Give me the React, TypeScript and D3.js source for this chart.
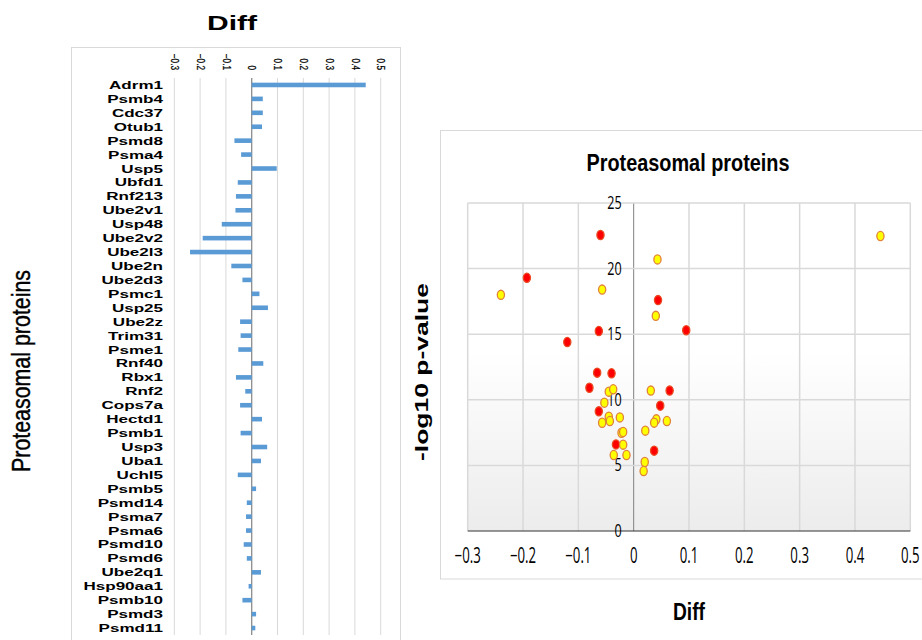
import React from "react";
import * as d3 from "d3";

const proteins = ["Adrm1","Psmb4","Cdc37","Otub1","Psmd8","Psma4","Usp5","Ubfd1","Rnf213","Ube2v1","Usp48","Ube2v2","Ube2l3","Ube2n","Ube2d3","Psmc1","Usp25","Ube2z","Trim31","Psme1","Rnf40","Rbx1","Rnf2","Cops7a","Hectd1","Psmb1","Usp3","Uba1","Uchl5","Psmb5","Psmd14","Psma7","Psma6","Psmd10","Psmd6","Ube2q1","Hsp90aa1","Psmb10","Psmd3","Psmd11"];
const diffValues = [0.442,0.043,0.043,0.04,-0.067,-0.041,0.097,-0.054,-0.061,-0.063,-0.116,-0.19,-0.239,-0.079,-0.036,0.03,0.063,-0.045,-0.043,-0.052,0.045,-0.061,-0.025,-0.045,0.04,-0.043,0.06,0.036,-0.054,0.017,-0.019,-0.022,-0.022,-0.031,-0.019,0.036,-0.012,-0.036,0.017,0.014];
const diffTicks = [-0.3,-0.2,-0.1,0,0.1,0.2,0.3,0.4,0.5];
const pTicks = [0,5,10,15,20,25];

const scatterDiff = [-0.06,0.043,-0.193,-0.24,-0.057,0.044,0.04,0.095,-0.063,-0.12,-0.066,-0.04,-0.08,-0.045,-0.037,-0.053,-0.063,-0.057,-0.045,-0.043,-0.025,-0.022,-0.019,-0.032,-0.019,-0.036,-0.013,0.031,0.065,0.048,0.041,0.037,0.06,0.021,0.037,0.02,0.018,0.446];
const scatterLogP = [22.56,20.7,19.3,18.0,18.4,17.6,16.4,15.3,15.24,14.4,12.07,12.02,10.92,10.62,10.8,9.78,9.12,8.25,8.71,8.38,8.66,7.49,7.55,6.6,6.58,5.79,5.79,10.7,10.7,9.55,8.51,8.26,8.38,7.65,6.12,5.26,4.57,22.48];
const scatterGroup = ["r","y","r","y","y","r","y","r","r","r","r","r","r","y","y","y","r","y","y","y","y","y","y","r","y","y","y","y","r","r","y","y","y","y","r","y","y","y"];

const xL = d3.scaleLinear().domain([-0.3, 0.5]).range([174.3, 380.7]);
const yL = d3.scaleBand<string>().domain(proteins).range([78, 635]);
const xR = d3.scaleLinear().domain([-0.3, 0.5]).range([467.7, 910.3]);
const yR = d3.scaleLinear().domain([0, 25]).range([531, 203]);

const fmt = (v: number) => (v === 0 ? "0" : d3.format(".1f")(v));

export default function App() {
  const grid = "#d9d9d9";
  return (
    <svg width={922} height={640} style={{ position: "absolute", left: 0, top: 0, background: "#fff" }}>
      <defs>
        <linearGradient id="bg" x1="0" y1="0" x2="0" y2="1">
          <stop offset="0" stopColor="#ffffff" />
          <stop offset="0.45" stopColor="#ffffff" />
          <stop offset="1" stopColor="#ececec" />
        </linearGradient>
      </defs>
      {/* LEFT CHART */}
      <rect x={71.5} y={47.5} width={329} height={620} fill="none" stroke={grid} />
      <text x={232} y={30} textAnchor="middle" fontFamily="Liberation Sans, Arial" fontWeight="bold" fontSize={20} textLength={50} lengthAdjust="spacingAndGlyphs">Diff</text>
      <text transform="translate(30,371) rotate(-90)" textAnchor="middle" fontFamily="Liberation Sans, Arial" fontSize={25} textLength={202} lengthAdjust="spacingAndGlyphs" stroke="#000" strokeWidth={0.4}>Proteasomal proteins</text>
      {diffTicks.map((t) => (
        <line key={"lg" + t} x1={xL(t)} x2={xL(t)} y1={78} y2={635} stroke={t === 0 ? "#8c8c8c" : grid} strokeWidth={t === 0 ? 1.3 : 1} />
      ))}
      {diffTicks.map((t) => (
        <text key={"lt" + t} transform={`translate(${xL(t)},70) rotate(90) scale(0.82,1)`} textAnchor="end" dominantBaseline="central" fontFamily="Liberation Sans, Arial" fontSize={10} stroke="#000" strokeWidth={0.25}>{fmt(t)}</text>
      ))}
      {proteins.map((p, i) => {
        const v = diffValues[i];
        const cy = (yL(p) as number) + yL.bandwidth() / 2;
        return (
          <g key={p}>
            <rect x={Math.min(xL(0), xL(v))} y={cy - 2.3} width={Math.abs(xL(v) - xL(0))} height={4.6} fill="#5b9bd5" />
            <text transform={`translate(163,${cy + 4}) scale(1.55,1)`} textAnchor="end" fontFamily="Liberation Sans, Arial" fontWeight="bold" fontSize={11}>{p}</text>
          </g>
        );
      })}

      {/* RIGHT CHART */}
      <rect x={440.5} y={130.5} width={500} height={448.5} fill="none" stroke={grid} />
      <text x={688} y={171} textAnchor="middle" fontFamily="Liberation Sans, Arial" fontWeight="bold" fontSize={24} textLength={203} lengthAdjust="spacingAndGlyphs">Proteasomal proteins</text>
      <rect x={xR(-0.3)} y={yR(25)} width={xR(0.5) - xR(-0.3)} height={yR(0) - yR(25)} fill="url(#bg)" />
      {diffTicks.map((t) => (
        <line key={"rg" + t} x1={xR(t)} x2={xR(t)} y1={yR(25)} y2={yR(0)} stroke={t === 0 ? "#808080" : grid} strokeWidth={t === 0 ? 1 : 1.5} />
      ))}
      {pTicks.map((t) => (
        <line key={"rh" + t} x1={xR(-0.3)} x2={xR(0.5)} y1={yR(t)} y2={yR(t)} stroke={t === 0 ? "#333" : grid} strokeWidth={t === 0 ? 1.2 : 1.5} />
      ))}
      {pTicks.map((t) => (
        <text key={"ry" + t} transform={`translate(621.7,${yR(t) + 6}) scale(0.72,1)`} textAnchor="end" fontFamily="Open Sans, DejaVu Sans" fontSize={17.5}>{t}</text>
      ))}
      {diffTicks.map((t) => (
        <text key={"rx" + t} transform={`translate(${xR(t)},562.5) scale(0.63,1)`} textAnchor="middle" fontFamily="Open Sans, DejaVu Sans" fontSize={21}>{fmt(t)}</text>
      ))}
      {scatterDiff.map((v, i) => (
        <ellipse key={"pt" + i} cx={xR(v)} cy={yR(scatterLogP[i])} rx={3.6} ry={4.6}
          fill={scatterGroup[i] === "r" ? "#ff0000" : "#ffff00"}
          stroke={scatterGroup[i] === "r" ? "#ea4a22" : "#e0823a"} strokeWidth={1.3} />
      ))}
      <text transform="translate(428,372) rotate(-90)" textAnchor="middle" fontFamily="Liberation Sans, Arial" fontWeight="bold" fontSize={19} textLength={178} lengthAdjust="spacingAndGlyphs">-log10 p-value</text>
      <text x={689} y={620} textAnchor="middle" fontFamily="Liberation Sans, Arial" fontWeight="bold" fontSize={24} textLength={32} lengthAdjust="spacingAndGlyphs">Diff</text>
    </svg>
  );
}
